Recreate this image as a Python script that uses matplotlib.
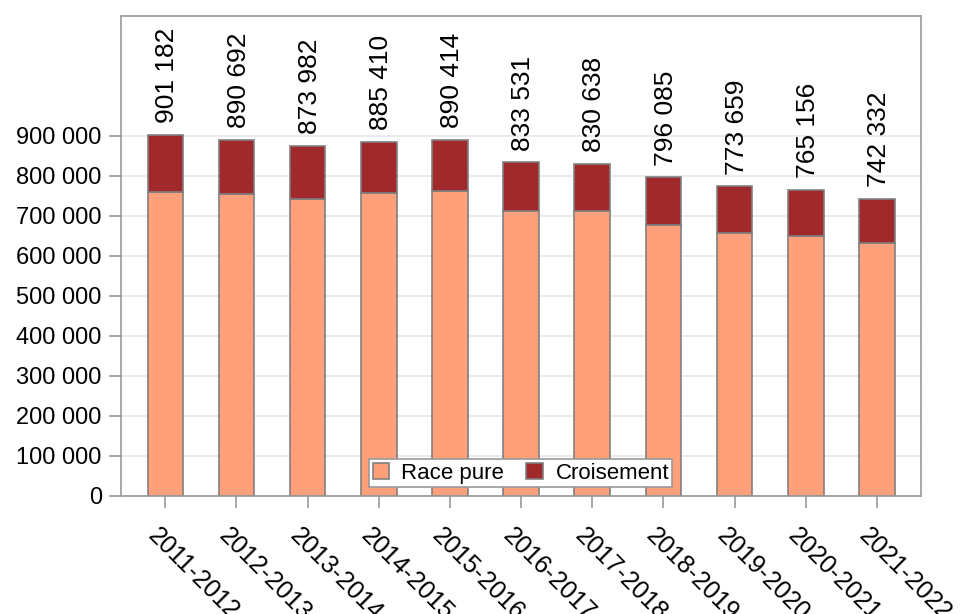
import matplotlib
matplotlib.use("Agg")
import matplotlib.pyplot as plt
from matplotlib.ticker import FuncFormatter, FixedLocator
import matplotlib.transforms as mtransforms

plt.rcParams['font.family'] = ['Liberation Sans', 'DejaVu Sans']

seasons = ["2011-2012", "2012-2013", "2013-2014", "2014-2015", "2015-2016",
           "2016-2017", "2017-2018", "2018-2019", "2019-2020", "2020-2021", "2021-2022"]
totals = [901182, 890692, 873982, 885410, 890414, 833531, 830638, 796085, 773659, 765156, 742332]
race_pure = [759000, 755000, 742000, 757000, 763000, 711000, 711000, 677000, 657000, 650000, 633000]
croisement = [t - p for t, p in zip(totals, race_pure)]

color_pure = '#FFA07A'
color_crois = '#A2292B'
edge = '#808080'
gray = '#999999'

fig = plt.figure(figsize=(9.63, 6.14), dpi=100)
ax = fig.add_axes([120.5/963, 1-496/614, (921-120.5)/963, (496-15.7)/614])

x = list(range(len(seasons)))
ax.bar(x, race_pure, width=0.5, color=color_pure, edgecolor=edge, linewidth=1.2,
       label='Race pure', zorder=2)
ax.bar(x, croisement, width=0.5, bottom=race_pure, color=color_crois, edgecolor=edge,
       linewidth=1.2, label='Croisement', zorder=2)

fmt = lambda v: f"{int(v):,}".replace(",", " ")
for xi, t in zip(x, totals):
    ax.annotate(fmt(t), (xi, t), xytext=(1.5, 8.5), textcoords='offset points',
                rotation=90, ha='center', va='bottom', fontsize=19, color='black')

ax.set_xlim(-0.63, 10.62)
ax.set_ylim(0, 1200000)
ax.yaxis.set_major_locator(FixedLocator(range(0, 900001, 100000)))
ax.yaxis.set_major_formatter(FuncFormatter(lambda v, p: fmt(v)))
ax.grid(axis='y', color='#e8e8e8', linewidth=1.2, zorder=0)
ax.set_axisbelow(True)

ax.set_xticks(x)
ax.set_xticklabels(seasons, rotation=-45, ha='left', rotation_mode='anchor')
ax.tick_params(axis='both', direction='out', length=8.5, width=1.2, color=gray,
               labelcolor='black')
ax.tick_params(axis='y', labelsize=17, pad=5)
ax.tick_params(axis='x', labelsize=18, pad=11)
for lab in ax.get_xticklabels():
    lab.set_transform(lab.get_transform() + mtransforms.ScaledTranslation(-4/72, 0, fig.dpi_scale_trans))

for s in ax.spines.values():
    s.set_color(gray)
    s.set_linewidth(1.2)

leg = ax.legend(loc='lower center', bbox_to_anchor=(0.5, 0.0), ncol=2, fontsize=16,
                frameon=True, fancybox=False, framealpha=1, edgecolor=gray,
                handlelength=0.75, handleheight=0.75, handletextpad=0.55,
                columnspacing=1.0, borderpad=0.15, borderaxespad=0.4)
leg.get_frame().set_linewidth(1.2)
leg.set_zorder(5)

fig.savefig('out.png', dpi=100)
